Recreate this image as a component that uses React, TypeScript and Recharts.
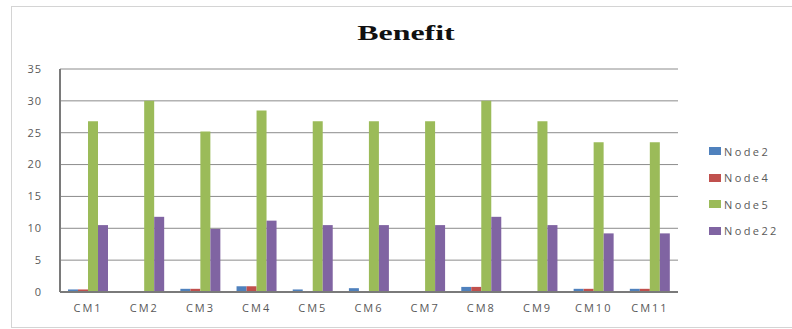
import { BarChart, Bar, XAxis, YAxis, CartesianGrid } from "recharts";

const categories = ["CM1", "CM2", "CM3", "CM4", "CM5", "CM6", "CM7", "CM8", "CM9", "CM10", "CM11"];
const node2 = [0.4, 0, 0.5, 0.9, 0.4, 0.6, 0, 0.8, 0, 0.5, 0.5];
const node4 = [0.4, 0, 0.5, 0.9, 0, 0, 0, 0.8, 0, 0.5, 0.5];
const node5 = [26.8, 30, 25.2, 28.5, 26.8, 26.8, 26.8, 30, 26.8, 23.5, 23.5];
const node22 = [10.5, 11.8, 9.9, 11.2, 10.5, 10.5, 10.5, 11.8, 10.5, 9.2, 9.2];
const yTicks = [0, 5, 10, 15, 20, 25, 30, 35];

const series = [
  { key: "node2", label: "Node2", color: "#4F81BD" },
  { key: "node4", label: "Node4", color: "#C0504D" },
  { key: "node5", label: "Node5", color: "#9BBB59" },
  { key: "node22", label: "Node22", color: "#8064A2" },
];

const data = categories.map((name, i) => ({
  name,
  node2: node2[i],
  node4: node4[i],
  node5: node5[i],
  node22: node22[i],
}));

const tickStyle = { fill: "#595959", fontSize: 11, fontFamily: "Open Sans, sans-serif", letterSpacing: 2 };

export default function App() {
  return (
    <div style={{ position: "fixed", top: 0, left: 0, width: 792, height: 329, background: "#fff", overflow: "hidden" }}>
      {/* outer frame */}
      <div style={{
        position: "absolute", left: 11, top: 6, width: 800, height: 320,
        border: "1px solid #d4d4d4",
      }} />

      {/* title, stretched like the source */}
      <div style={{
        position: "absolute", left: 406, top: 20, transform: "translateX(-50%) scaleX(1.45)",
        fontFamily: "Liberation Serif, serif", fontWeight: "bold", fontSize: 22, color: "#111",
        lineHeight: "26px", whiteSpace: "nowrap",
      }}>
        Benefit
      </div>

      <div style={{ position: "absolute", left: 0, top: 0 }}>
        <BarChart
          width={792}
          height={329}
          data={data}
          margin={{ top: 69, right: 114, bottom: 7, left: 10 }}
          barSize={10}
          barGap={0}
        >
          <CartesianGrid vertical={false} stroke="#8c8c8c" strokeWidth={1} />
          <XAxis
            dataKey="name"
            height={30}
            tick={tickStyle}
            tickLine={false}
            tickSize={0}
            tickMargin={12}
            axisLine={{ stroke: "#7a7a7a", strokeWidth: 2 }}
            interval={0}
          />
          <YAxis
            width={50}
            domain={[0, 35]}
            ticks={yTicks}
            tick={{ ...tickStyle, letterSpacing: 1 }}
            tickLine={false}
            tickSize={0}
            tickMargin={18}
            axisLine={{ stroke: "#7a7a7a", strokeWidth: 2 }}
            interval={0}
          />
          {series.map((s) => (
            <Bar key={s.key} dataKey={s.key} fill={s.color} isAnimationActive={false} />
          ))}
        </BarChart>
      </div>

      {/* Legend */}
      <div style={{ position: "absolute", left: 709, top: 138 }}>
        {series.map((s) => (
          <div key={s.key} style={{ display: "flex", alignItems: "center", height: 26.5 }}>
            <span style={{ width: 12, height: 8, background: s.color, display: "block", marginRight: 3 }} />
            <span style={{
              fontSize: 11, color: "#595959", fontFamily: "Open Sans, sans-serif", letterSpacing: 2.4,
            }}>{s.label}</span>
          </div>
        ))}
      </div>
    </div>
  );
}
